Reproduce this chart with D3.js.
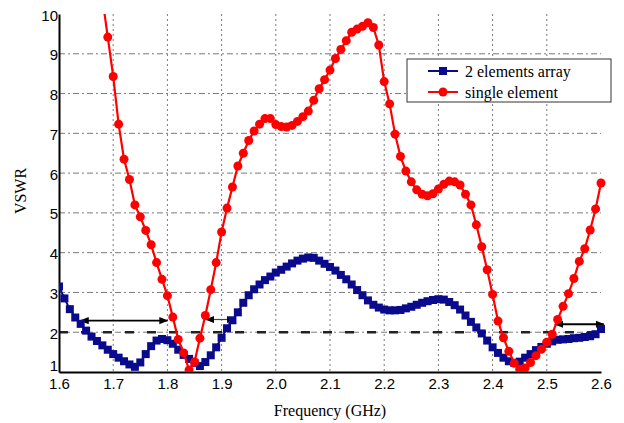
<!DOCTYPE html>
<html>
<head>
<meta charset="utf-8">
<script src="https://cdn.jsdelivr.net/npm/d3@7"></script>
<style>
  body { margin: 0; background: #fff; }
  .serif { font-family: 'Liberation Serif', 'DejaVu Serif', 'Times New Roman', Times, serif; font-size: 16px; }
  .tick text { font-family: 'Liberation Sans', Arial, Helvetica, sans-serif; font-size: 15px; }
</style>
</head>
<body>
<div id="chart"></div>
<script>
// frequency steps (GHz)
const freqArray = [1.60,1.61,1.62,1.63,1.64,1.65,1.66,1.67,1.68,1.69,1.70,1.71,1.72,1.73,1.74,1.75,1.76,1.77,1.78,1.79,
  1.80,1.81,1.82,1.83,1.84,1.85,1.86,1.87,1.88,1.89,1.90,1.91,1.92,1.93,1.94,1.95,1.96,1.97,1.98,1.99,
  2.00,2.01,2.02,2.03,2.04,2.05,2.06,2.07,2.08,2.09,2.10,2.11,2.12,2.13,2.14,2.15,2.16,2.17,2.18,2.19,
  2.20,2.21,2.22,2.23,2.24,2.25,2.26,2.27,2.28,2.29,2.30,2.31,2.32,2.33,2.34,2.35,2.36,2.37,2.38,2.39,
  2.40,2.41,2.42,2.43,2.44,2.45,2.46,2.47,2.48,2.49,2.50,2.51,2.52,2.53,2.54,2.55,2.56,2.57,2.58,2.59,2.60];

// 2 elements array VSWR, one value per freqArray entry
const arrayVswr = [3.15,2.85,2.58,2.37,2.21,2.04,1.89,1.78,1.67,1.56,1.45,1.36,1.27,1.19,1.13,1.24,1.45,1.65,1.79,1.83,
  1.80,1.71,1.56,1.43,1.33,1.23,1.15,1.25,1.42,1.62,1.86,2.10,2.30,2.50,2.74,2.93,3.08,3.20,3.31,3.40,
  3.50,3.57,3.65,3.73,3.80,3.85,3.88,3.87,3.80,3.72,3.64,3.55,3.44,3.33,3.20,3.06,2.93,2.80,2.69,2.62,
  2.57,2.55,2.55,2.56,2.60,2.64,2.69,2.74,2.78,2.81,2.83,2.82,2.76,2.68,2.57,2.42,2.26,2.12,1.97,1.79,
  1.62,1.48,1.36,1.27,1.23,1.26,1.36,1.45,1.55,1.63,1.71,1.77,1.81,1.82,1.83,1.85,1.86,1.88,1.90,1.95,2.08];

// single element VSWR, starts at 1.68 GHz (above the plot top there)
const singleFreq = freqArray.slice(8);
const singleVswr = [10.4,9.42,8.43,7.23,6.35,5.84,5.20,4.90,4.56,4.20,3.75,3.33,
  2.92,2.38,1.82,1.48,1.05,1.25,1.85,2.42,3.07,3.75,4.52,5.12,5.65,6.18,6.50,6.82,7.06,7.23,7.37,7.37,
  7.22,7.17,7.16,7.20,7.30,7.42,7.56,7.83,8.12,8.35,8.59,8.88,9.11,9.33,9.54,9.62,9.69,9.78,9.66,9.22,
  8.30,7.74,6.98,6.42,6.05,5.78,5.58,5.47,5.43,5.48,5.60,5.72,5.80,5.78,5.70,5.47,5.20,4.70,4.15,3.57,
  2.95,2.28,1.86,1.52,1.22,1.07,1.10,1.24,1.41,1.57,1.75,1.95,2.32,2.65,2.97,3.35,3.78,4.10,4.57,5.10,5.75];

const xTicks = [1.6,1.7,1.8,1.9,2.0,2.1,2.2,2.3,2.4,2.5,2.6];
const yTicks = [1,2,3,4,5,6,7,8,9,10];

// bandwidth arrows [from, to, level]
const bandArrows = [[1.64, 1.80, 2.29], [1.871, 1.925, 2.32], [2.515, 2.605, 2.2]];

const seriesNames = ["2 elements array", "single element"];

const width = 624, height = 423,
      margin = ({ top: 14, right: 23, bottom: 51, left: 59 });

let svg = d3.select("#chart")
    .append("svg")
    .attr("width", width)
    .attr("height", height);

let x = d3.scaleLinear()
    .domain([1.6, 2.6])
    .range([margin.left, width - margin.right]);

let y = d3.scaleLinear()
    .domain([1, 10])
    .range([height - margin.bottom, margin.top]);

svg.append("clipPath").attr("id", "plot")
    .append("rect")
    .attr("x", margin.left).attr("y", margin.top)
    .attr("width", x(2.6) - margin.left + 6)
    .attr("height", y(1) - margin.top);

// grid
svg.append("g")
    .selectAll("line")
    .data(xTicks.slice(1, -1))
    .join("line")
    .attr("x1", d => x(d)).attr("x2", d => x(d))
    .attr("y1", y(10)).attr("y2", y(1))
    .attr("stroke", "#7a7a7a")
    .attr("stroke-width", 1)
    .attr("stroke-dasharray", "2,3");

svg.append("g")
    .selectAll("line")
    .data(yTicks.slice(1, -1))
    .join("line")
    .attr("x1", x(1.6)).attr("x2", x(2.6))
    .attr("y1", d => y(d)).attr("y2", d => y(d))
    .attr("stroke", "#7a7a7a")
    .attr("stroke-width", 1)
    .attr("stroke-dasharray", "6,3,2,3");

// VSWR = 2 reference line
svg.append("line")
    .attr("x1", x(1.6)).attr("x2", x(2.6))
    .attr("y1", y(2)).attr("y2", y(2))
    .attr("stroke", "#222")
    .attr("stroke-width", 2.5)
    .attr("stroke-dasharray", "9,13");

// axes
let xAxis = svg.append("g")
    .attr("transform", `translate(0,${y(1)})`)
    .call(d3.axisBottom(x).tickValues(xTicks).tickFormat(d3.format(".1f")).tickSize(0).tickPadding(6));
let yAxis = svg.append("g")
    .attr("transform", `translate(${x(1.6)},0)`)
    .call(d3.axisLeft(y).tickValues(yTicks).tickSize(0).tickPadding(1));

for (let ax of [xAxis, yAxis]) {
    ax.attr("font-family", null).attr("font-size", null);
    ax.select(".domain").attr("stroke", "#000").attr("stroke-width", 2);
    ax.selectAll("text").attr("fill", "#000");
}
yAxis.selectAll("text").attr("dy", d => d == 1 ? "-0.1em" : "0.4em");
xAxis.selectAll("text").attr("dy", "0.75em");

// arrows
let defs = svg.append("defs");
defs.append("marker")
    .attr("id", "head")
    .attr("viewBox", "0 0 10 10")
    .attr("refX", 9).attr("refY", 5)
    .attr("markerWidth", 9).attr("markerHeight", 9)
    .attr("markerUnits", "userSpaceOnUse")
    .attr("orient", "auto-start-reverse")
    .append("path")
    .attr("d", "M0,1 L10,5 L0,9 Z")
    .attr("fill", "#000");

svg.append("g")
    .selectAll("line")
    .data(bandArrows)
    .join("line")
    .attr("x1", d => x(d[0])).attr("x2", d => x(d[1]))
    .attr("y1", d => y(d[2])).attr("y2", d => y(d[2]))
    .attr("stroke", (d, i) => i == 1 ? "#444" : "#000")
    .attr("stroke-width", (d, i) => i == 1 ? 1.2 : 1.8)
    .attr("marker-start", "url(#head)")
    .attr("marker-end", "url(#head)");

// 2 elements array
let blueData = freqArray.map((f, i) => [f, arrayVswr[i]]);
let line = d3.line().x(d => x(d[0])).y(d => y(d[1]));

let blue = svg.append("g").attr("clip-path", "url(#plot)");
blue.append("path")
    .attr("d", line(blueData))
    .attr("fill", "none")
    .attr("stroke", "#0a0a8c")
    .attr("stroke-width", 2);
blue.selectAll("rect")
    .data(blueData)
    .join("rect")
    .attr("x", d => x(d[0]) - 4)
    .attr("y", d => y(d[1]) - 4)
    .attr("width", 8).attr("height", 8)
    .attr("fill", "#0a0a8c");

// single element
let redData = singleFreq.map((f, i) => [f, singleVswr[i]]);
let red = svg.append("g").attr("clip-path", "url(#plot)");
red.append("path")
    .attr("d", line(redData))
    .attr("fill", "none")
    .attr("stroke", "#ff0000")
    .attr("stroke-width", 2.2);
red.selectAll("circle")
    .data(redData.filter(d => d[1] <= 10))
    .join("circle")
    .attr("cx", d => x(d[0]))
    .attr("cy", d => y(d[1]))
    .attr("r", 4.5)
    .attr("fill", "#ff0000");

// legend
let legend = svg.append("g").attr("transform", "translate(407,59)");
legend.append("rect")
    .attr("width", 204).attr("height", 43)
    .attr("fill", "#fff")
    .attr("stroke", "#333")
    .attr("stroke-width", 1);

let item = legend.selectAll(".item")
    .data(seriesNames)
    .join("g")
    .attr("class", "item")
    .attr("transform", (d, i) => `translate(0,${12 + i * 21})`);
item.append("line")
    .attr("x1", 21).attr("x2", 51)
    .attr("stroke", (d, i) => i == 0 ? "#0a0a8c" : "#ff0000")
    .attr("stroke-width", 2);
item.filter((d, i) => i == 0).append("rect")
    .attr("x", 32).attr("y", -4).attr("width", 8).attr("height", 8)
    .attr("fill", "#0a0a8c");
item.filter((d, i) => i == 1).append("circle")
    .attr("cx", 36).attr("r", 4.5)
    .attr("fill", "#ff0000");
item.append("text")
    .text(d => d)
    .attr("class", "serif")
    .attr("x", 58)
    .attr("dy", "0.35em");

// axis titles
svg.append("text")
    .text("Frequency (GHz)")
    .attr("class", "serif")
    .attr("x", 330).attr("y", 416)
    .attr("text-anchor", "middle");

svg.append("text")
    .text("VSWR")
    .attr("class", "serif")
    .attr("transform", "translate(26,191) rotate(-90)")
    .attr("text-anchor", "middle");
</script>
</body>
</html>
